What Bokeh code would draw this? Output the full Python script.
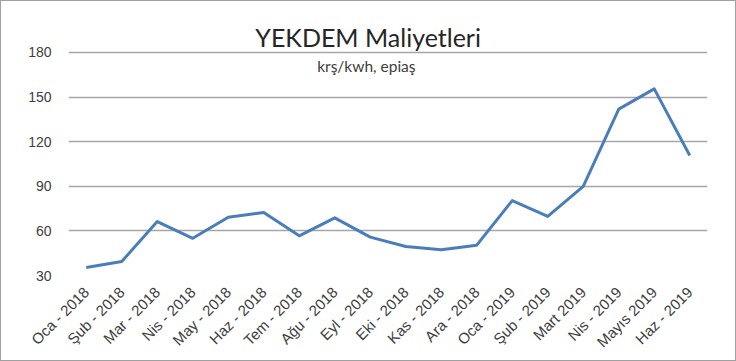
from bokeh.plotting import figure
from bokeh.models import Range1d, FixedTicker, Label, ColumnDataSource
from bokeh.embed import file_html
from bokeh.resources import INLINE
import math

# ---- data ----
months = ["Oca - 2018", "Şub - 2018", "Mar - 2018", "Nis - 2018", "May - 2018",
          "Haz - 2018", "Tem - 2018", "Ağu - 2018", "Eyl - 2018", "Eki - 2018",
          "Kas - 2018", "Ara - 2018", "Oca - 2019", "Şub - 2019", "Mart 2019",
          "Nis - 2019", "Mayıs 2019", "Haz - 2019"]
costs = [35.4, 39.4, 66.3, 55.0, 69.2, 72.4, 56.7, 68.8, 55.8, 49.5,
         47.3, 50.4, 80.4, 69.7, 89.9, 141.9, 155.5, 110.7]
y_ticks = [30, 60, 90, 120, 150, 180]
title_text = "YEKDEM Maliyetleri"
subtitle_text = "krş/kwh, epiaş"

xs = [i + 0.5 for i in range(len(months))]
src = ColumnDataSource(dict(x=xs, y=costs))

p = figure(width=736, height=361, output_backend="svg", toolbar_location=None,
           x_range=Range1d(0, len(months)), y_range=Range1d(30, 214.3),
           min_border_left=67, min_border_right=30, min_border_top=0,
           min_border_bottom=87)
p.outline_line_color = None
p.background_fill_color = "white"
p.border_fill_color = "white"

p.line("x", "y", source=src, line_color="#4a7ebb", line_width=3, line_join="round")

# axes
p.xaxis.ticker = FixedTicker(ticks=xs)
p.xaxis.major_label_overrides = {x: m for x, m in zip(xs, months)}
p.xaxis.major_label_orientation = math.pi / 4
p.xaxis.axis_line_color = None
p.xaxis.major_tick_line_color = None
p.xaxis.minor_tick_line_color = None
p.xaxis.major_tick_out = 0
p.xaxis.major_label_text_font = "Liberation Sans"
p.xaxis.major_label_text_font_size = "15px"
p.xaxis.major_label_text_color = "#404040"
p.xaxis.major_label_standoff = 14

p.yaxis.ticker = FixedTicker(ticks=y_ticks)
p.yaxis.axis_line_color = None
p.yaxis.major_tick_line_color = None
p.yaxis.minor_tick_line_color = None
p.yaxis.major_tick_out = 0
p.yaxis.major_label_text_font = "Liberation Sans"
p.yaxis.major_label_text_font_size = "14px"
p.yaxis.major_label_text_color = "#404040"
p.yaxis.major_label_standoff = 17

p.xgrid.grid_line_color = None
p.ygrid.grid_line_color = "#a6a6a6"
p.ygrid.grid_line_width = 1.5

p.add_layout(Label(x=8.44, y=190.5, text=title_text, text_font="Lato",
                   text_font_size="25px", text_color="#262626",
                   text_align="center", text_baseline="middle"))
p.add_layout(Label(x=8.39, y=171.0, text=subtitle_text, text_font="Lato",
                   text_font_size="15.5px", text_color="#404040",
                   text_align="center", text_baseline="middle"))

p.styles = {"border": "1px solid #a0a0a0", "box-sizing": "border-box"}

open("out.html", "w").write(file_html(p, INLINE))
